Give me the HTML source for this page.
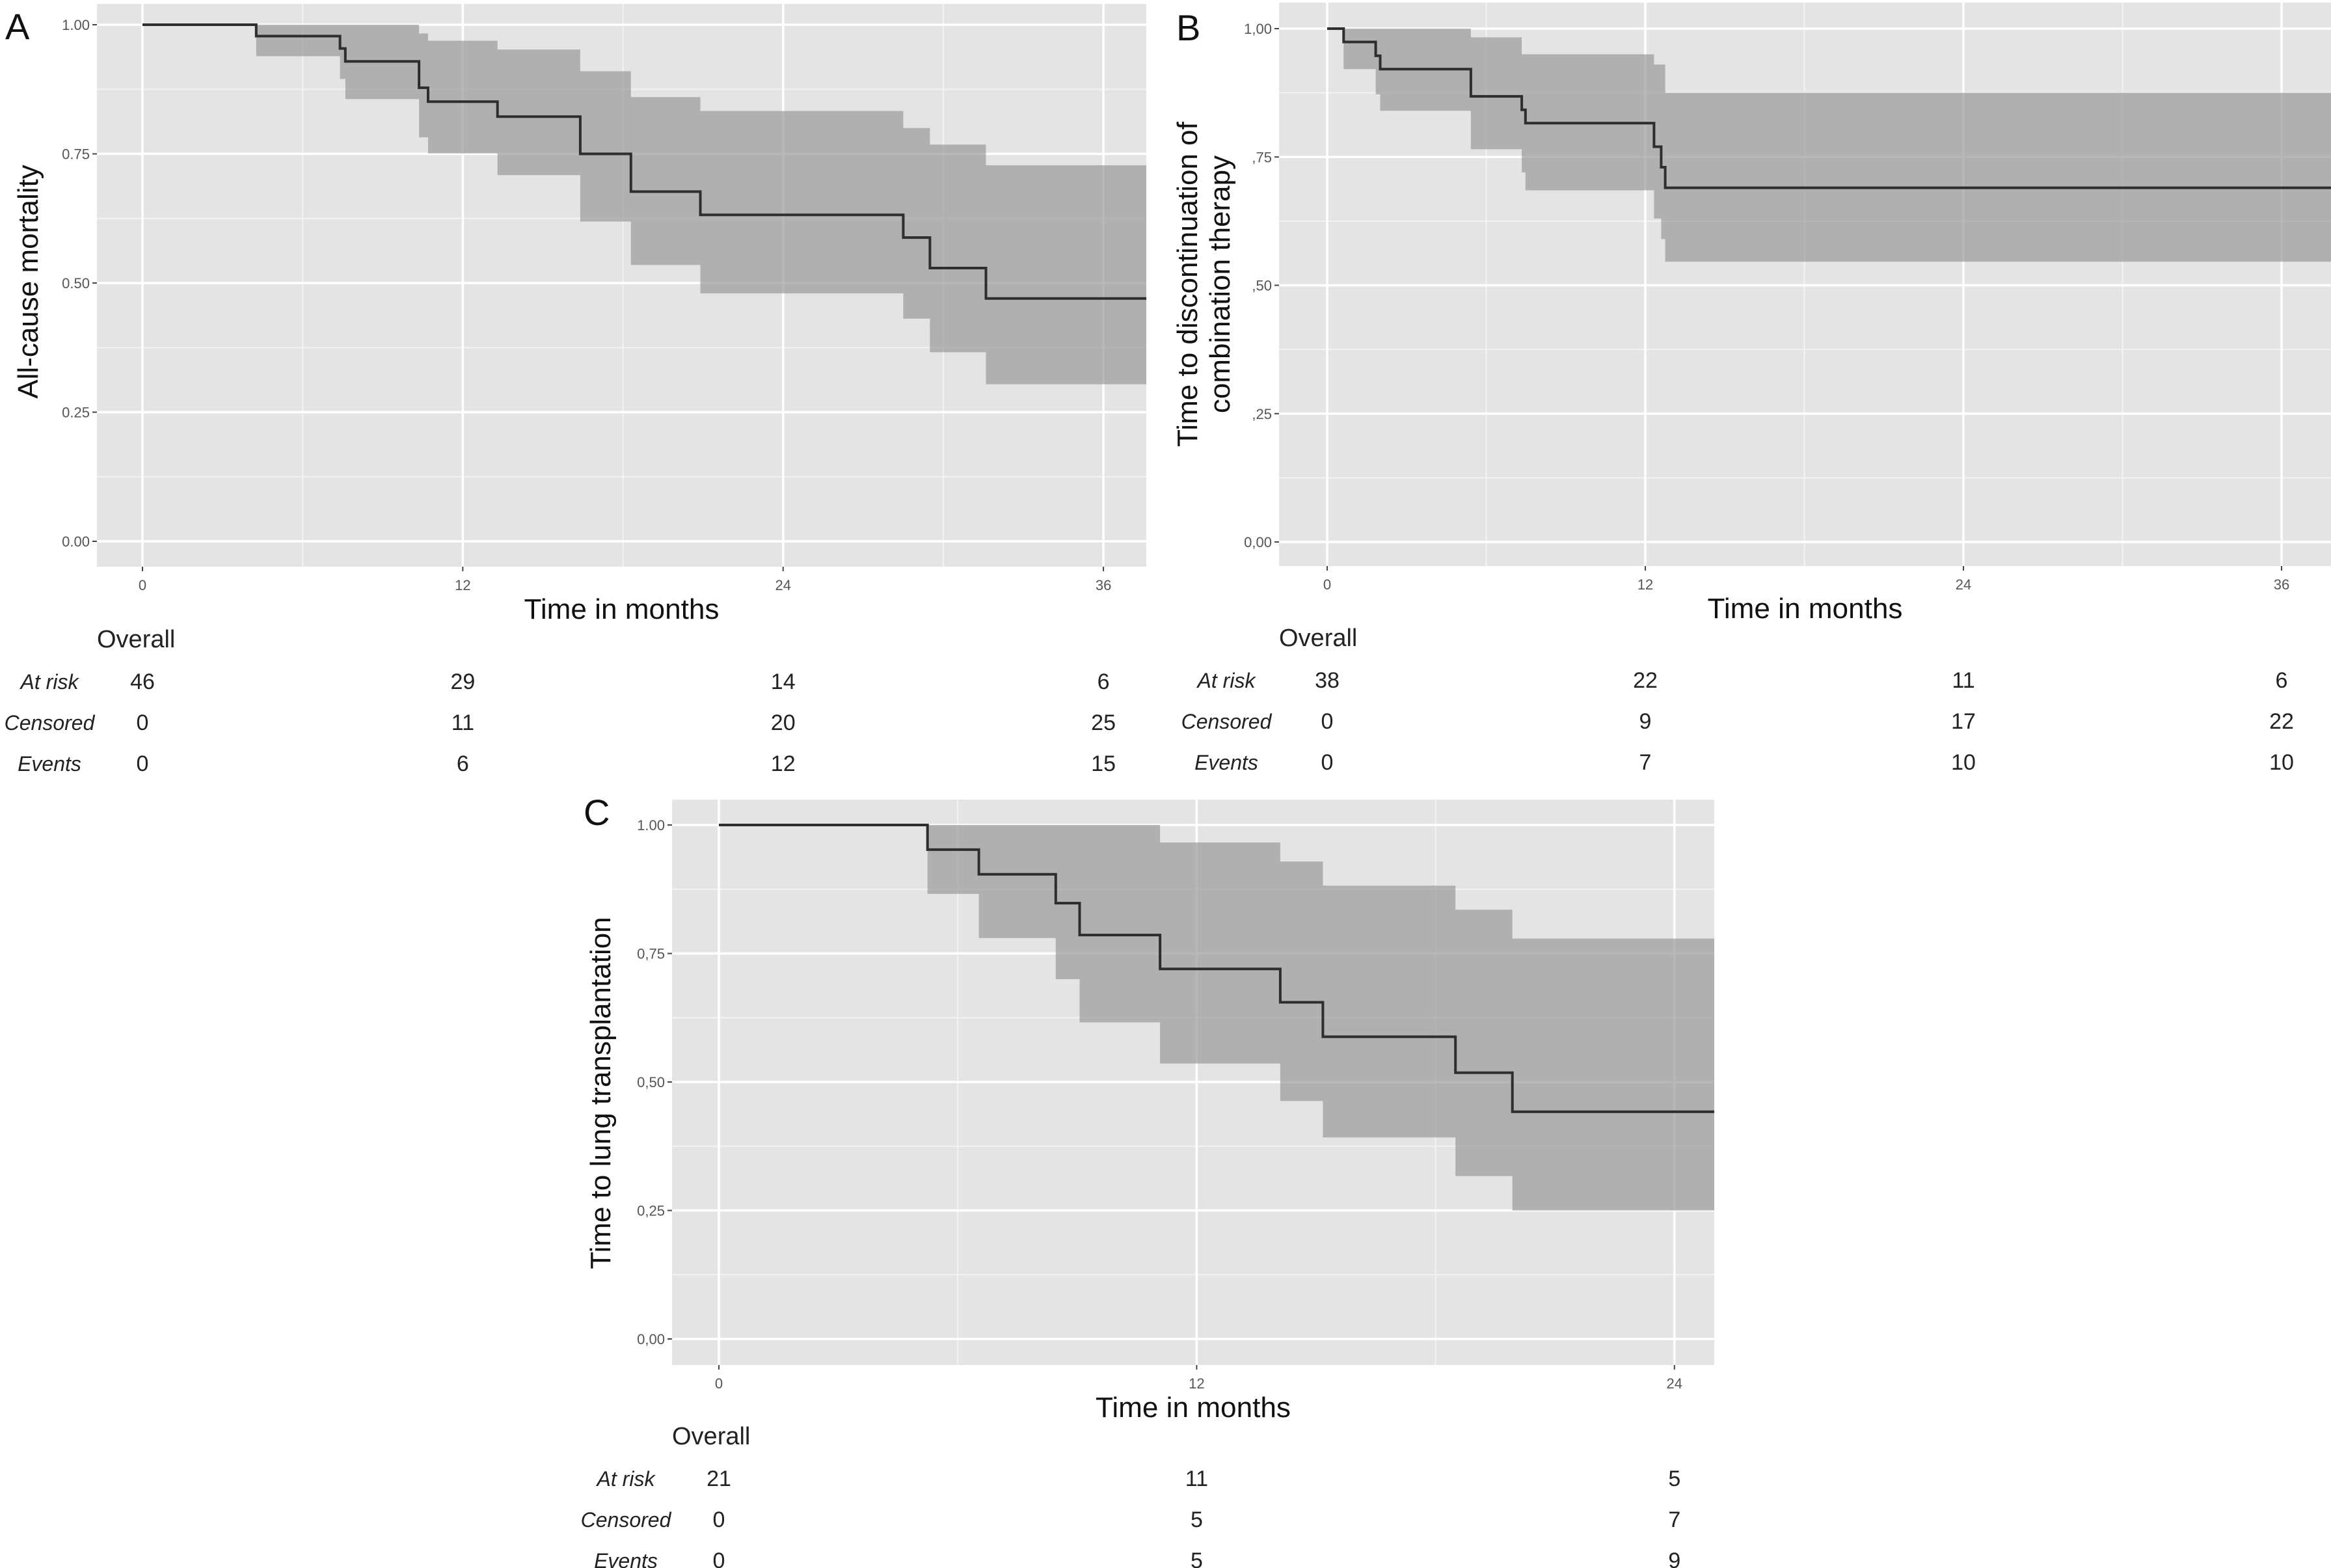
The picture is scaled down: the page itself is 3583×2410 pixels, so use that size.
<!DOCTYPE html>
<html><head><meta charset="utf-8">
<style>
html,body{margin:0;padding:0;background:#fff;}
svg{display:block;}
text{font-family:"Liberation Sans",sans-serif;}
</style></head>
<body>
<svg id="fig" width="3583" height="2410" viewBox="0 0 3583 2410" xmlns="http://www.w3.org/2000/svg"></svg>
<script>
// ---- Panel A data ----
const aTimes = [0, 4.26, 7.4, 7.6, 10.36, 10.7, 13.3, 16.4, 18.3, 20.9, 28.5, 29.5, 31.6];
const aSurv  = [1, 0.978, 0.954, 0.929, 0.878, 0.851, 0.822, 0.75, 0.677, 0.632, 0.588, 0.529, 0.47];
const aUpper = [1, 1, 1, 1, 0.983, 0.969, 0.952, 0.91, 0.86, 0.833, 0.80, 0.768, 0.728];
const aLower = [1, 0.939, 0.895, 0.856, 0.782, 0.751, 0.709, 0.619, 0.535, 0.48, 0.431, 0.366, 0.304];
const aRiskTimes = [0, 12, 24, 36];
const aAtRisk = [46, 29, 14, 6];
const aCensored = [0, 11, 20, 25];
const aEvents = [0, 6, 12, 15];
const aYTicks = ["0.00", "0.25", "0.50", "0.75", "1.00"];
const aXTicks = [0, 12, 24, 36];

// ---- Panel B data ----
const bTimes = [0, 0.62, 1.83, 2.0, 5.42, 7.34, 7.48, 12.33, 12.6, 12.75];
const bSurv  = [1, 0.974, 0.947, 0.921, 0.868, 0.842, 0.816, 0.77, 0.73, 0.69];
const bUpper = [1, 1, 1, 1, 0.983, 0.95, 0.95, 0.93, 0.93, 0.875];
const bLower = [1, 0.921, 0.872, 0.84, 0.765, 0.72, 0.685, 0.63, 0.59, 0.546];
const bRiskTimes = [0, 12, 24, 36];
const bAtRisk = [38, 22, 11, 6];
const bCensored = [0, 9, 17, 22];
const bEvents = [0, 7, 10, 10];
const bYTicks = ["0,00", ",25", ",50", ",75", "1,00"];
const bXTicks = [0, 12, 24, 36];

// ---- Panel C data ----
const cTimes = [0, 5.24, 6.53, 8.46, 9.06, 11.08, 14.1, 15.17, 18.5, 19.93];
const cSurv  = [1, 0.952, 0.904, 0.848, 0.786, 0.72, 0.655, 0.588, 0.518, 0.442];
const cUpper = [1, 1, 1, 1, 1, 0.966, 0.929, 0.882, 0.835, 0.779];
const cLower = [1, 0.866, 0.78, 0.70, 0.616, 0.536, 0.463, 0.392, 0.317, 0.25];
const cRiskTimes = [0, 12, 24];
const cAtRisk = [21, 11, 5];
const cCensored = [0, 5, 7];
const cEvents = [0, 5, 9];
const cYTicks = ["0,00", "0,25", "0,50", "0,75", "1.00"];
const cXTicks = [0, 12, 24];

const NS = "http://www.w3.org/2000/svg";
const svg = document.getElementById("fig");
function mk(tag, attrs, parent) {
  const e = document.createElementNS(NS, tag);
  for (const k in attrs) e.setAttribute(k, attrs[k]);
  (parent || svg).appendChild(e);
  return e;
}

function drawPanel(p) {
  const g = mk("g", {});
  
  
  const xs = t => p.x0 + t * p.pm;
  const ys = v => p.y0 - v * (p.y0 - p.y1);
  const tEnd = (p.rx2 - p.x0) / p.pm;
  const bg = mk("rect", {x: p.rx1, y: p.ry1, width: p.rx2 - p.rx1, height: p.ry2 - p.ry1, fill: "#e4e4e4"}, g);
  
  
  // minor grid
  for (let t = p.xTicks[0] + 6; t < tEnd; t += 12) {
    const l = mk("line", {x1: xs(t), x2: xs(t), y1: p.ry1, y2: p.ry2, stroke: "#f3f3f3", "stroke-width": 2}, g);
    
    
  }
  for (let v = 0.125; v < 1.05; v += 0.25) {
    const l = mk("line", {x1: p.rx1, x2: p.rx2, y1: ys(v), y2: ys(v), stroke: "#f3f3f3", "stroke-width": 2}, g);
    
    
  }
  // major grid + ticks
  p.xTicks.forEach(t => {
    const l = mk("line", {x1: xs(t), x2: xs(t), y1: p.ry1, y2: p.ry2, stroke: "#ffffff", "stroke-width": 3.5}, g);
    
    
    const tk = mk("line", {x1: xs(t), x2: xs(t), y1: p.ry2, y2: p.ry2 + 7, stroke: "#444", "stroke-width": 2}, g);
    
    
    const tx = mk("text", {x: xs(t), y: p.ry2 + 36, "text-anchor": "middle", "font-size": 22, fill: "#555"}, g);
    tx.textContent = t;
    
    
  });
  p.yTicks.forEach((lab, i) => {
    const v = i * 0.25;
    const l = mk("line", {x1: p.rx1, x2: p.rx2, y1: ys(v), y2: ys(v), stroke: "#ffffff", "stroke-width": 3.5}, g);
    
    
    const tk = mk("line", {x1: p.rx1 - 7, x2: p.rx1, y1: ys(v), y2: ys(v), stroke: "#444", "stroke-width": 2}, g);
    
    
    const tx = mk("text", {x: p.rx1 - 11, y: ys(v) + 8, "text-anchor": "end", "font-size": 22, fill: "#555"}, g);
    tx.textContent = lab;
    
    
  });
  // ribbon
  const n = p.times.length;
  let up = [], lo = [];
  for (let i = 0; i < n; i++) {
    const t2 = i < n - 1 ? p.times[i + 1] : tEnd;
    up.push([xs(p.times[i]), ys(p.upper[i])], [xs(t2), ys(p.upper[i])]);
    lo.push([xs(p.times[i]), ys(p.lower[i])], [xs(t2), ys(p.lower[i])]);
  }
  const pts = up.concat(lo.reverse()).map(q => q[0].toFixed(1) + "," + q[1].toFixed(1)).join(" ");
  const rb = mk("polygon", {points: pts, fill: "#9a9a9a", "fill-opacity": 0.7}, g);
  
  
  // survival step line
  let d = "M" + xs(p.times[0]) + "," + ys(p.surv[0]);
  for (let i = 0; i < n; i++) {
    const t2 = i < n - 1 ? p.times[i + 1] : tEnd;
    d += " L" + xs(t2).toFixed(1) + "," + ys(p.surv[i]).toFixed(1);
    if (i < n - 1) d += " L" + xs(t2).toFixed(1) + "," + ys(p.surv[i + 1]).toFixed(1);
  }
  const ln = mk("path", {d: d, fill: "none", stroke: "#2e2e2e", "stroke-width": 4}, g);
  
  
  // panel letter
  const lt = mk("text", {x: p.letterX, y: p.letterY, "font-size": 56, fill: "#111"}, g);
  lt.textContent = p.letter;
  
  
  // axis titles
  const xt = mk("text", {x: (p.rx1 + p.rx2) / 2, y: p.ry2 + 80, "text-anchor": "middle", "font-size": 44, fill: "#111", textLength: 300, lengthAdjust: "spacingAndGlyphs"}, g);
  xt.textContent = "Time in months";
  
  
  p.yTitle.forEach((s, k) => {
    const cx = p.yTitleX + k * 50;
    const yt = mk("text", {x: cx, y: p.yTitleY, "text-anchor": "middle", "font-size": 44, fill: "#111", transform: "rotate(-90 " + cx + " " + p.yTitleY + ")"}, g);
    yt.textContent = s;
    
    
  });
  // risk table
  const ov = mk("text", {x: p.rx1, y: p.tableY, "font-size": 38, fill: "#222"}, g);
  ov.textContent = "Overall";
  
  
  const rows = [["At risk", p.atRisk], ["Censored", p.censored], ["Events", p.events]];
  rows.forEach((r, k) => {
    const yy = p.tableY + 64 + k * 63;
    const lb = mk("text", {x: p.labelX, y: yy, "text-anchor": "middle", "font-size": 32, "font-style": "italic", fill: "#222"}, g);
    lb.textContent = r[0];
    
    
    r[1].forEach((v, j) => {
      const nt = mk("text", {x: xs(p.riskTimes[j]), y: yy, "text-anchor": "middle", "font-size": 34, fill: "#222"}, g);
      nt.textContent = v;
      
      
    });
  });
}

drawPanel({name: "panel-a-all-cause-mortality", letter: "A", letterX: 8, letterY: 60,
  x0: 219, pm: 41.03, y1: 38, y0: 832, rx1: 149, rx2: 1762, ry1: 6, ry2: 871,
  times: aTimes, surv: aSurv, upper: aUpper, lower: aLower,
  xTicks: aXTicks, yTicks: aYTicks, riskTimes: aRiskTimes,
  atRisk: aAtRisk, censored: aCensored, events: aEvents,
  yTitle: ["All-cause mortality"], yTitleX: 58, yTitleY: 433,
  tableY: 995, labelX: 76});

drawPanel({name: "panel-b-discontinuation", letter: "B", letterX: 1808, letterY: 62,
  x0: 2040, pm: 40.75, y1: 44, y0: 833, rx1: 1966, rx2: 3583, ry1: 4, ry2: 870,
  times: bTimes, surv: bSurv, upper: bUpper, lower: bLower,
  xTicks: bXTicks, yTicks: bYTicks, riskTimes: bRiskTimes,
  atRisk: bAtRisk, censored: bCensored, events: bEvents,
  yTitle: ["Time to discontinuation of", "combination therapy"], yTitleX: 1840, yTitleY: 437,
  tableY: 993, labelX: 1885});

drawPanel({name: "panel-c-lung-transplantation", letter: "C", letterX: 897, letterY: 1268,
  x0: 1105, pm: 61.2, y1: 1268, y0: 2058, rx1: 1033, rx2: 2635, ry1: 1229, ry2: 2098,
  times: cTimes, surv: cSurv, upper: cUpper, lower: cLower,
  xTicks: cXTicks, yTicks: cYTicks, riskTimes: cRiskTimes,
  atRisk: cAtRisk, censored: cCensored, events: cEvents,
  yTitle: ["Time to lung transplantation"], yTitleX: 938, yTitleY: 1680,
  tableY: 2220, labelX: 962});
</script>
</body></html>
